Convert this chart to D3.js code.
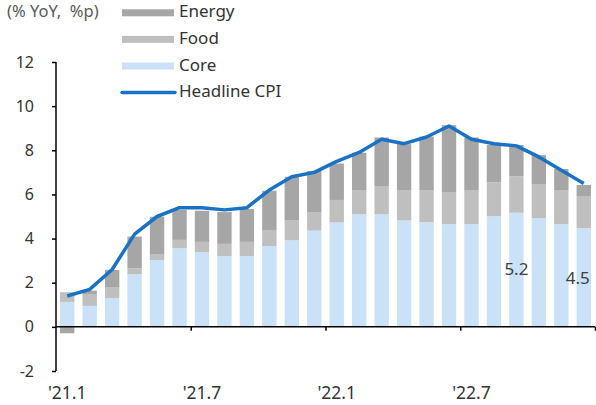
<!DOCTYPE html>
<html>
<head>
<meta charset="utf-8">
<script src="https://cdn.jsdelivr.net/npm/d3@7"></script>
<style>
  html, body { margin: 0; padding: 0; background: #fff; }
  svg { display: block; font-family: "Noto Sans", "Open Sans", sans-serif; }
</style>
</head>
<body>
<svg id="chart" width="596" height="405"></svg>
<script>
const months = ["'21.1","'21.2","'21.3","'21.4","'21.5","'21.6","'21.7","'21.8","'21.9","'21.10","'21.11","'21.12",
                "'22.1","'22.2","'22.3","'22.4","'22.5","'22.6","'22.7","'22.8","'22.9","'22.10","'22.11","'22.12"];
const core   = [1.13,0.95,1.31,2.38,3.03,3.56,3.38,3.21,3.21,3.65,3.92,4.36,4.73,5.10,5.10,4.82,4.74,4.65,4.65,5.01,5.17,4.92,4.65,4.47];
const food   = [0.44,0.54,0.47,0.27,0.27,0.38,0.47,0.55,0.64,0.74,0.92,0.84,1.02,1.10,1.28,1.38,1.46,1.46,1.55,1.54,1.65,1.55,1.55,1.46];
const energy = [-0.29,0.15,0.80,1.44,1.69,1.36,1.41,1.44,1.49,1.78,1.96,1.86,1.65,1.69,2.20,2.08,2.42,3.03,2.38,1.69,1.42,1.31,0.95,0.50];
const headline = [1.4,1.7,2.6,4.2,5.0,5.4,5.4,5.3,5.4,6.2,6.8,7.0,7.5,7.9,8.5,8.3,8.6,9.1,8.5,8.3,8.2,7.7,7.1,6.5];
const xLabels = ["'21.1","'21.7","'22.1","'22.7"];
const yTicks = [-2,0,2,4,6,8,10,12];
const seriesNames = ["Core","Food","Energy"];
const colors = {Energy:"#a6a6a6", Food:"#bfbfbf", Core:"#c9e2f8", Headline:"#1a72c4"};
const annotations = [{i:20, text:"5.2", v:2.55, dx:0}, {i:23, text:"4.5", v:2.17, dx:-6}];

const svg = d3.select("#chart");
const mLeft = 56, mRight = 595, mTop = 62, mBottom = 371;

const x = d3.scaleBand().domain(months).range([mLeft, mRight]).paddingInner(0.36).paddingOuter(0.18);
const xb = d3.scaleLinear().domain([0, months.length]).range([mLeft, mRight]);
const y = d3.scaleLinear().domain([-2, 12]).range([mBottom, mTop]);

const table = months.map((m, i) => ({month: m, Core: core[i], Food: food[i], Energy: energy[i]}));
const stack = d3.stack().keys(seriesNames).offset(d3.stackOffsetDiverging);
const layers = stack(table);

svg.append("g").selectAll("g").data(layers).join("g")
  .attr("fill", d => colors[d.key])
  .selectAll("rect").data(d => d).join("rect")
  .attr("x", d => x(d.data.month))
  .attr("width", x.bandwidth())
  .attr("y", d => y(Math.max(d[0], d[1])))
  .attr("height", d => Math.abs(y(d[0]) - y(d[1])));

// axes
const yAxis = svg.append("g").attr("transform", `translate(${mLeft},0)`)
  .call(d3.axisLeft(y).tickValues(yTicks).tickSize(4).tickPadding(18).tickFormat(d => String(d)));
yAxis.select(".domain").attr("d", `M0,${mTop}V${mBottom}`).attr("stroke", "#000").attr("stroke-width", 1.5);
yAxis.selectAll(".tick line").attr("stroke", "#000").attr("stroke-width", 1.5);
yAxis.selectAll("text").attr("font-size", 16).attr("fill", "#333").attr("font-family", "Noto Sans");

const xAxis = svg.append("g").attr("transform", `translate(0,${y(0)})`)
  .call(d3.axisBottom(xb).tickValues([6,12,18,24]).tickSize(4).tickFormat(""));
xAxis.select(".domain").attr("d", `M${mLeft},0H${mRight}`).attr("stroke", "#000").attr("stroke-width", 1.5);
xAxis.selectAll(".tick line").attr("stroke", "#000").attr("stroke-width", 1.5);

svg.append("g").selectAll("text").data(xLabels).join("text")
  .attr("x", d => x(d) + x.bandwidth() / 2)
  .attr("y", 399)
  .attr("text-anchor", "middle")
  .attr("font-size", 17.5)
  .attr("fill", "#333")
  .text(d => d);

// headline line
const line = d3.line().x((d, i) => x(months[i]) + x.bandwidth() / 2).y(d => y(d));
svg.append("path").datum(headline)
  .attr("fill", "none").attr("stroke", colors.Headline).attr("stroke-width", 3.5)
  .attr("stroke-linejoin", "round")
  .attr("d", line);

// annotations
svg.append("g").selectAll("text").data(annotations).join("text")
  .attr("x", d => x(months[d.i]) + x.bandwidth() / 2 + d.dx)
  .attr("y", d => y(d.v))
  .attr("text-anchor", "middle")
  .attr("dominant-baseline", "middle")
  .attr("font-size", 17)
  .attr("fill", "#404040")
  .text(d => d.text);

// unit label
svg.append("text").attr("x", 7).attr("y", 13).attr("dominant-baseline", "middle")
  .attr("xml:space", "preserve").style("white-space", "pre")
  .attr("font-size", 16.5).attr("fill", "#595959").text("(% YoY,  %p)");

// legend
const legendItems = [
  {name: "Energy", type: "rect", color: colors.Energy},
  {name: "Food", type: "rect", color: colors.Food},
  {name: "Core", type: "rect", color: colors.Core},
  {name: "Headline CPI", type: "line", color: colors.Headline}
];
const lg = svg.append("g").selectAll("g").data(legendItems).join("g")
  .attr("transform", (d, i) => `translate(122,${12.8 + i * 26.6})`);
lg.filter(d => d.type === "rect").append("rect")
  .attr("x", 0).attr("y", -3.5).attr("width", 52).attr("height", 7).attr("fill", d => d.color);
lg.filter(d => d.type === "line").append("line")
  .attr("x1", 0).attr("x2", 53).attr("y1", 0).attr("y2", 0)
  .attr("stroke", d => d.color).attr("stroke-width", 3.5).attr("stroke-linecap", "round");
lg.append("text").attr("x", 57).attr("y", 0).attr("dominant-baseline", "middle")
  .attr("font-size", 17).attr("fill", "#333").text(d => d.name);
</script>
</body>
</html>
